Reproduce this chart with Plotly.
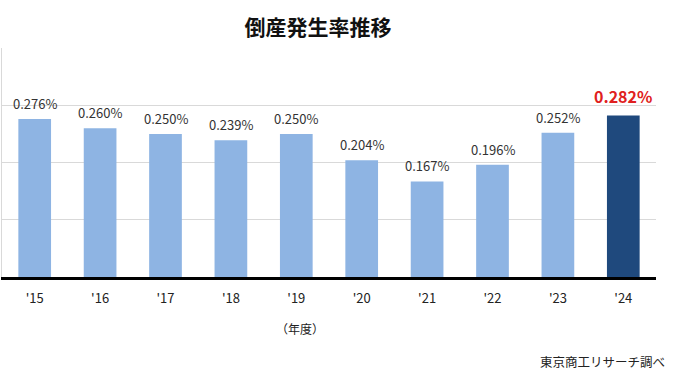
import plotly.graph_objects as go

years = ["'15", "'16", "'17", "'18", "'19", "'20", "'21", "'22", "'23", "'24"]
rates = [0.276, 0.260, 0.250, 0.239, 0.250, 0.204, 0.167, 0.196, 0.252, 0.282]

colors = ["#8EB4E3"] * 9 + ["#1F497D"]

FONT = "Noto Sans CJK JP"

fig = go.Figure(go.Bar(
    x=years, y=rates, marker_color=colors, marker_line_width=0,
    width=0.5, hoverinfo="x+y",
))

L, R, T, B = 2, 18, 48, 102
pw, ph = 674 - L - R, 379 - T - B

annotations = []
for i, (yr, v) in enumerate(zip(years, rates)):
    last = i == len(years) - 1
    annotations.append(dict(
        x=yr, y=v, xref="x", yref="y", showarrow=False, yanchor="bottom",
        yshift=6 if last else 4,
        text=f"<b>{v:.3f}%</b>" if last else f"{v:.3f}%",
        font=dict(size=16 if last else 13, color="#E02020" if last else "#333333", family=FONT),
    ))
annotations += [
    dict(text="（年度）", x=(300 - L) / pw, y=(277 - 328) / ph, xref="paper", yref="paper",
         xanchor="center", yanchor="middle", showarrow=False,
         font=dict(size=12, color="#222")),
    dict(text="東京商工リサーチ調べ", x=(667 - L) / pw, y=(277 - 362) / ph,
         xref="paper", yref="paper", xanchor="right", yanchor="middle", showarrow=False,
         font=dict(size=12.5, color="#222")),
]

fig.update_layout(
    width=674, height=379, paper_bgcolor="white", plot_bgcolor="white",
    margin=dict(l=L, r=R, t=T, b=B),
    showlegend=False,
    font=dict(family=FONT, color="#222"),
    title=dict(text="<b>倒産発生率推移</b>", x=(318) / 674, xanchor="center",
               y=1 - 28 / 379, yanchor="middle",
               font=dict(size=21, color="#111", family=FONT)),
    xaxis=dict(range=[-0.5, 9.5], showline=True, linecolor="black", linewidth=3, ticks="",
               tickfont=dict(size=13, color="#222"), ticklabelstandoff=7, fixedrange=True),
    yaxis=dict(range=[0, 0.4], dtick=0.1, showticklabels=False, showgrid=True,
               gridcolor="#D9D9D9", gridwidth=1, zeroline=False,
               showline=True, linecolor="#D9D9D9", linewidth=1, fixedrange=True),
    annotations=annotations,
)

fig.write_html("out.html")
